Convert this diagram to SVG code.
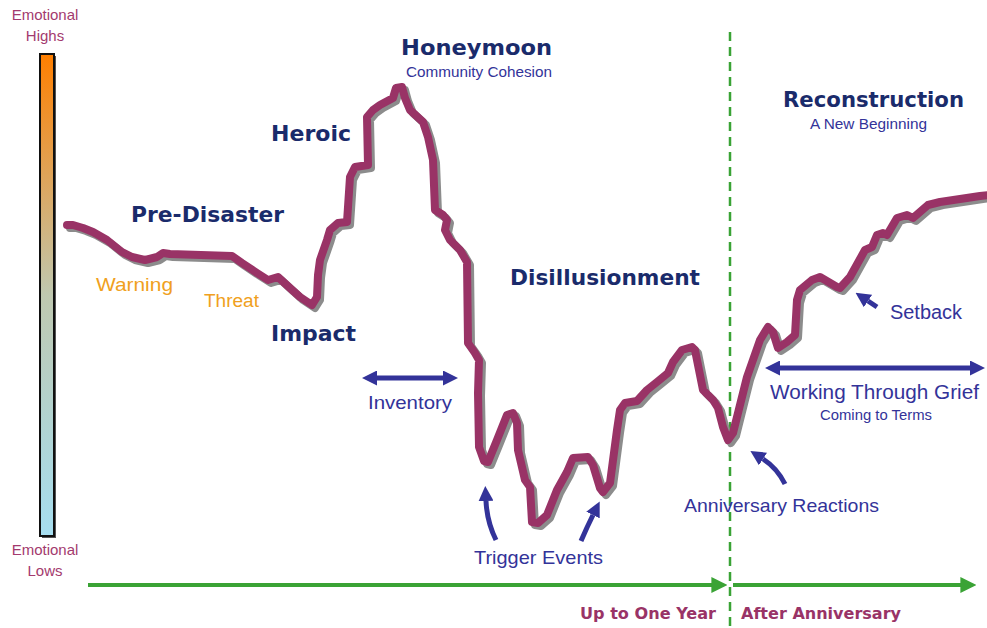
<svg xmlns="http://www.w3.org/2000/svg" width="987" height="628" viewBox="0 0 987 628">
<defs>
<linearGradient id="emo" x1="0" y1="0" x2="0" y2="1">
<stop offset="0" stop-color="#ff7f00"/>
<stop offset="0.5" stop-color="#bfc8b0"/>
<stop offset="1" stop-color="#a6def0"/>
</linearGradient>
<marker id="bh" viewBox="0 0 10 10" refX="0" refY="5" markerWidth="3" markerHeight="3" orient="auto-start-reverse" markerUnits="strokeWidth">
<path d="M0,0 L10,5 L0,10 z" fill="#333399"/>
</marker>
<marker id="gh" viewBox="0 0 10 10" refX="1" refY="5" markerWidth="4" markerHeight="4" orient="auto" markerUnits="strokeWidth">
<path d="M0,0 L10,5 L0,10 z" fill="#3aa335"/>
</marker>
</defs>
<style>
.lbl{font-family:"Liberation Sans",Arial,sans-serif;fill:#333399}
.head{font-family:"DejaVu Sans","Liberation Sans",sans-serif;font-weight:bold;fill:#1a2b6b;font-size:22px}
.emo{font-family:"Liberation Sans",Arial,sans-serif;fill:#a33a6e;font-size:15px;text-anchor:middle}
.warn{font-family:"Liberation Sans",Arial,sans-serif;fill:#f0a020}
.time{font-family:"DejaVu Sans","Liberation Sans",sans-serif;font-weight:bold;fill:#993366;font-size:16px}
.barrow{fill:none;stroke:#333399;stroke-width:5}
.curve{fill:none;stroke-width:8;stroke-linejoin:round;stroke-linecap:round}
</style>
<g id="scale">
<rect x="42" y="56" width="14" height="482" fill="#555"/>
<rect x="40" y="54" width="14" height="482" fill="url(#emo)" stroke="#111" stroke-width="2"/>
<text class="emo" x="45" y="20">Emotional</text>
<text class="emo" x="45" y="41">Highs</text>
<text class="emo" x="45" y="555">Emotional</text>
<text class="emo" x="45" y="576">Lows</text>
</g>
<g id="timeline">
<line x1="730" y1="32" x2="730" y2="628" stroke="#3aa335" stroke-width="2.5" stroke-dasharray="9,6"/>
<line x1="88" y1="585" x2="713" y2="585" stroke="#3aa335" stroke-width="4" marker-end="url(#gh)"/>
<line x1="733" y1="585" x2="962" y2="585" stroke="#3aa335" stroke-width="4" marker-end="url(#gh)"/>
<text class="time" x="580" y="619" textLength="136" lengthAdjust="spacingAndGlyphs">Up to One Year</text>
<text class="time" x="741" y="619" textLength="160" lengthAdjust="spacingAndGlyphs">After Anniversary</text>
</g>
<g id="emotion-curve">
<path class="curve" stroke="#8c8c8c" transform="translate(3,3)" d="M67,225 L73,225 L83,228 L93,232 L107,240 L122,252 L132,257 L145,260 L157,257 L163,253 L170,254 L232,256 L242,263 L257,273 L268,280 L278,277 L290,288 L300,297 L312,305 L317,297 L318,275 L320,260 L327,240 L330,230 L338,223 L347,222 L348,207 L350,177 L355,167 L368,165 L367,117 L373,110 L380,105 L393,98 L396,88 L402,87 L405,98 L410,110 L423,122 L428,137 L433,160 L435,210 L443,215 L447,220 L445,230 L450,240 L460,250 L467,262 L468,343 L475,353 L479,360 L478,393 L479,447 L484,461 L488,462 L497,440 L507,415 L513,413 L517,423 L518,450 L525,480 L530,487 L532,522 L538,523 L547,515 L557,490 L567,472 L573,458 L588,457 L593,465 L600,488 L603,492 L610,483 L617,430 L620,410 L625,403 L637,401 L647,390 L657,382 L668,373 L673,362 L682,350 L692,347 L695,350 L703,390 L713,400 L718,408 L723,427 L728,440 L733,433 L747,377 L760,340 L768,327 L773,332 L778,348 L787,342 L795,335 L797,300 L800,290 L812,280 L820,277 L837,287 L840,288 L850,277 L865,250 L872,247 L877,235 L883,233 L887,235 L897,218 L907,215 L913,218 L928,205 L940,202 L980,196 L990,195"/>
<path class="curve" stroke="#993366" d="M67,225 L73,225 L83,228 L93,232 L107,240 L122,252 L132,257 L145,260 L157,257 L163,253 L170,254 L232,256 L242,263 L257,273 L268,280 L278,277 L290,288 L300,297 L312,305 L317,297 L318,275 L320,260 L327,240 L330,230 L338,223 L347,222 L348,207 L350,177 L355,167 L368,165 L367,117 L373,110 L380,105 L393,98 L396,88 L402,87 L405,98 L410,110 L423,122 L428,137 L433,160 L435,210 L443,215 L447,220 L445,230 L450,240 L460,250 L467,262 L468,343 L475,353 L479,360 L478,393 L479,447 L484,461 L488,462 L497,440 L507,415 L513,413 L517,423 L518,450 L525,480 L530,487 L532,522 L538,523 L547,515 L557,490 L567,472 L573,458 L588,457 L593,465 L600,488 L603,492 L610,483 L617,430 L620,410 L625,403 L637,401 L647,390 L657,382 L668,373 L673,362 L682,350 L692,347 L695,350 L703,390 L713,400 L718,408 L723,427 L728,440 L733,433 L747,377 L760,340 L768,327 L773,332 L778,348 L787,342 L795,335 L797,300 L800,290 L812,280 L820,277 L837,287 L840,288 L850,277 L865,250 L872,247 L877,235 L883,233 L887,235 L897,218 L907,215 L913,218 L928,205 L940,202 L980,196 L990,195"/>
</g>
<g id="phase-labels">
<text class="head" x="401" y="55" textLength="151" lengthAdjust="spacingAndGlyphs">Honeymoon</text>
<text class="lbl" x="406" y="77" font-size="14" textLength="146" lengthAdjust="spacingAndGlyphs">Community Cohesion</text>
<text class="head" x="271" y="141" textLength="80" lengthAdjust="spacingAndGlyphs">Heroic</text>
<text class="head" x="131" y="222" textLength="153" lengthAdjust="spacingAndGlyphs">Pre-Disaster</text>
<text class="head" x="271" y="341" textLength="85" lengthAdjust="spacingAndGlyphs">Impact</text>
<text class="head" x="510" y="285" textLength="190" lengthAdjust="spacingAndGlyphs">Disillusionment</text>
<text class="head" x="783" y="107" textLength="181" lengthAdjust="spacingAndGlyphs">Reconstruction</text>
<text class="lbl" x="810" y="129" font-size="14" textLength="117" lengthAdjust="spacingAndGlyphs">A New Beginning</text>
<text class="warn" x="96" y="291" font-size="19" textLength="77" lengthAdjust="spacingAndGlyphs">Warning</text>
<text class="warn" x="204" y="307" font-size="18" textLength="55" lengthAdjust="spacingAndGlyphs">Threat</text>
</g>
<g id="connectors">
<line class="barrow" x1="377" y1="378" x2="443" y2="378" marker-start="url(#bh)" marker-end="url(#bh)"/>
<line class="barrow" x1="780" y1="368" x2="970" y2="368" marker-start="url(#bh)" marker-end="url(#bh)"/>
<path class="barrow" d="M877,307 L868,301" marker-end="url(#bh)"/>
<path class="barrow" d="M785,484 Q777,468 763,459" marker-end="url(#bh)"/>
<path class="barrow" d="M496,540 Q487,522 486,501" marker-end="url(#bh)"/>
<path class="barrow" d="M581,541 Q587,527 593,515" marker-end="url(#bh)"/>
</g>
<g id="annotations">
<text class="lbl" x="368" y="409" font-size="19" textLength="84" lengthAdjust="spacingAndGlyphs">Inventory</text>
<text class="lbl" x="890" y="319" font-size="20" textLength="72" lengthAdjust="spacingAndGlyphs">Setback</text>
<text class="lbl" x="770" y="399" font-size="20" textLength="209" lengthAdjust="spacingAndGlyphs">Working Through Grief</text>
<text class="lbl" x="820" y="420" font-size="14" textLength="112" lengthAdjust="spacingAndGlyphs">Coming to Terms</text>
<text class="lbl" x="684" y="512" font-size="19" textLength="195" lengthAdjust="spacingAndGlyphs">Anniversary Reactions</text>
<text class="lbl" x="474" y="564" font-size="19" textLength="129" lengthAdjust="spacingAndGlyphs">Trigger Events</text>
</g>
</svg>
